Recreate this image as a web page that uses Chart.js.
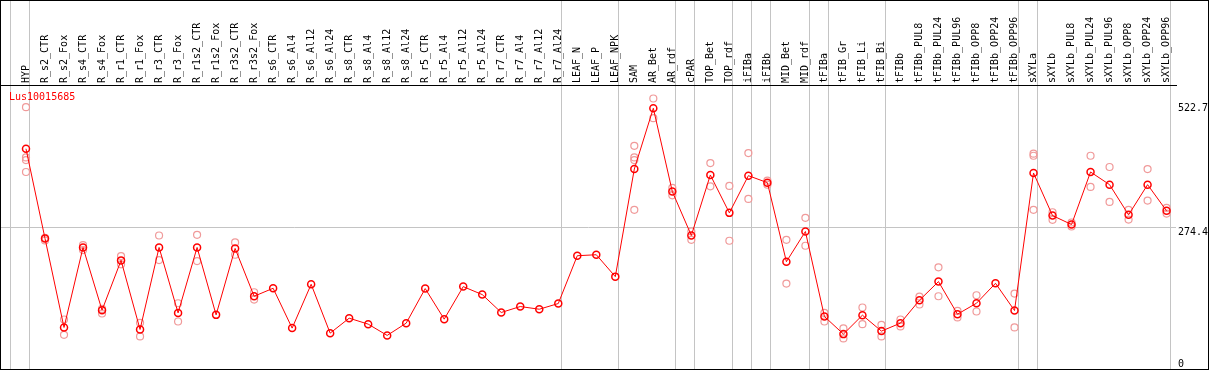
<!DOCTYPE html>
<html>
<head>
<meta charset="utf-8">
<script src="https://cdn.jsdelivr.net/npm/chart.js@4.4.1/dist/chart.umd.min.js"></script>
<style>
html, body { margin: 0; padding: 0; background: #fff; }
#wrap { position: relative; width: 1207px; height: 368px; border: 1px solid #000; }
</style>
</head>
<body>
<div id="wrap"><canvas id="expr"></canvas></div>
<script>
const geneName = 'Lus10015685';

const samples = ['HYP', 'R_s2_CTR', 'R_s2_Fox', 'R_s4_CTR', 'R_s4_Fox', 'R_r1_CTR', 'R_r1_Fox', 'R_r3_CTR', 'R_r3_Fox',
  'R_r1s2_CTR', 'R_r1s2_Fox', 'R_r3s2_CTR', 'R_r3s2_Fox', 'R_s6_CTR', 'R_s6_Al4', 'R_s6_Al12', 'R_s6_Al24',
  'R_s8_CTR', 'R_s8_Al4', 'R_s8_Al12', 'R_s8_Al24', 'R_r5_CTR', 'R_r5_Al4', 'R_r5_Al12', 'R_r5_Al24',
  'R_r7_CTR', 'R_r7_Al4', 'R_r7_Al12', 'R_r7_Al24', 'LEAF_N', 'LEAF_P', 'LEAF_NPK', 'SAM', 'AR_Bet', 'AR_rdf',
  'cPAR', 'TOP_Bet', 'TOP_rdf', 'iFIBa', 'iFIBb', 'MID_Bet', 'MID_rdf', 'tFIBa', 'tFIB_Gr', 'tFIB_Li', 'tFIB_Bi',
  'tFIBb', 'tFIBb_PUL8', 'tFIBb_PUL24', 'tFIBb_PUL96', 'tFIBb_OPP8', 'tFIBb_OPP24', 'tFIBb_OPP96',
  'sXYLa', 'sXYLb', 'sXYLb_PUL8', 'sXYLb_PUL24', 'sXYLb_PUL96', 'sXYLb_OPP8', 'sXYLb_OPP24', 'sXYLb_OPP96'];

// mean expression per sample
const meanVals = [425.6, 252.3, 80.3, 234.9, 113.6, 209.9, 76.4, 234.9, 108.4,
  234.9, 104.6, 233.0, 140.6, 156.0, 79.0, 163.7, 69.3,
  98.2, 86.7, 64.9, 88.6, 155.4, 96.3, 159.2, 143.8,
  109.2, 120.7, 115.5, 126.5, 218.9, 220.8, 178.5, 386.4, 503.9, 342.8,
  258.0, 374.9, 301.7, 373.6, 360.1, 207.4, 265.7, 101.5, 67.4, 104.0, 73.2,
  88.6, 132.9, 168.9, 105.9, 127.1, 165.6, 113.0,
  378.8, 296.5, 279.2, 380.7, 356.2, 297.9, 356.2, 305.6];

// individual replicates (null = none shown)
const repA = [505.9, 253.6, 95.7, 239.4, 116.1, 218.2, 89.2, 258.0, 127.1,
  259.3, null, 244.6, 148.3, null, null, null, null,
  null, null, null, null, null, null, null, null,
  null, null, null, null, null, null, null, 431.3, 522.7, 349.9,
  265.7, 398.0, 353.7, 417.3, 364.0, 249.7, 292.1, 108.4, 78.4, 118.8, 85.4,
  95.7, 140.0, 196.4, 112.3, 142.5, null, 145.8,
  416.0, 302.9, 283.1, 412.1, 390.3, 307.5, 386.4, 311.3];
const repB = [408.8, 248.4, 66.0, 229.8, 107.2, 202.2, 62.9, 210.5, 91.8,
  208.6, null, 220.8, 134.2, null, null, null, null,
  null, null, null, null, null, null, null, null,
  null, null, null, null, null, null, null, 408.8, 484.7, 335.6,
  249.7, 353.0, 247.8, 328.7, 356.2, 165.0, 238.2, 91.8, 59.1, 86.7, 62.9,
  82.2, 124.6, 140.6, 99.6, 111.1, null, 80.3,
  412.1, 288.3, 275.4, 351.8, 322.9, 288.8, 325.4, 300.4];
const repC = [403.8, null, null, null, null, null, null, null, null,
  null, null, null, null, null, null, null, null,
  null, null, null, null, null, null, null, null,
  null, null, null, null, null, null, null, 403.8, null, null,
  null, null, null, null, null, null, null, null, null, null, null,
  null, null, null, null, null, null, null,
  307.5, null, null, null, null, null, null, null];
const repD = [380.7, null, null, null, null, null, null, null, null,
  null, null, null, null, null, null, null, null,
  null, null, null, null, null, null, null, null,
  null, null, null, null, null, null, null, 307.5, null, null,
  null, null, null, null, null, null, null, null, null, null, null,
  null, null, null, null, null, null, null,
  null, null, null, null, null, null, null, null];

// first sample index of each tissue group (last entry closes the final group)
const groupStarts = [0, 1, 29, 32, 35, 36, 38, 39, 40, 42, 43, 46, 53, 54, 61];
const yTicks = [0, 274.4, 522.7];
const yMax = 548.8;

const monoFont = { family: 'DejaVu Sans Mono', size: 10 };
const xMin = -1.315, xMax = 60.495;

const replicatePoints = [];
[repA, repB, repC, repD].forEach(rep => {
  rep.forEach((v, i) => { if (v !== null) replicatePoints.push({ x: i, y: v }); });
});

function noPad(s) {
  s.paddingLeft = 0; s.paddingRight = 0; s.paddingTop = 0; s.paddingBottom = 0;
}

// y labels sit just below their value, except the bottom one
function yLabel(v) {
  if (v === 522.7) return ['', '', '522.7'];
  if (v === 0) return ['0', ''];
  return ['', String(v)];
}

const geneTitle = {
  id: 'geneTitle',
  afterDraw(chart) {
    const ctx = chart.ctx;
    ctx.save();
    ctx.font = '10px "DejaVu Sans Mono"';
    ctx.fillStyle = '#ff0000';
    ctx.textBaseline = 'middle';
    ctx.fillText(geneName, 8, chart.chartArea.top + 12);
    ctx.restore();
  }
};

new Chart(document.getElementById('expr'), {
  type: 'line',
  data: {
    datasets: [{
      label: geneName,
      data: meanVals.map((v, i) => ({ x: i, y: v })),
      borderColor: '#ff0000',
      borderWidth: 1,
      tension: 0,
      pointRadius: 3.5,
      pointBorderWidth: 1.5,
      pointBorderColor: '#ff0000',
      pointBackgroundColor: 'rgba(0,0,0,0)',
      order: 0
    }, {
      label: 'replicates',
      data: replicatePoints,
      showLine: false,
      pointRadius: 3.5,
      pointBorderWidth: 1.2,
      pointBorderColor: '#f09a9a',
      pointBackgroundColor: 'rgba(0,0,0,0)',
      order: 1
    }]
  },
  options: {
    responsive: true,
    maintainAspectRatio: false,
    animation: false,
    layout: { padding: 0, autoPadding: false },
    plugins: { legend: { display: false }, tooltip: { enabled: false } },
    scales: {
      x: {
        type: 'linear', position: 'top', min: xMin, max: xMax, weight: 10,
        grid: { display: false, drawTicks: false },
        border: { display: true, color: '#000', width: 1 },
        ticks: {
          autoSkip: false, minRotation: 90, maxRotation: 90, padding: 2, labelOffset: 12,
          color: '#000', font: monoFont,
          callback: v => samples[v] ?? ''
        },
        afterBuildTicks: s => { s.ticks = samples.map((_, i) => ({ value: i })); },
        afterFit: s => { s.height = 84; noPad(s); }
      },
      xs: {
        type: 'linear', position: 'top', min: xMin, max: xMax, weight: 0,
        ticks: { display: false },
        grid: { color: '#c4c4c4', lineWidth: 1, drawTicks: true, tickLength: 84 },
        border: { display: false },
        afterBuildTicks: s => { s.ticks = groupStarts.map(k => ({ value: k - 0.81 })); },
        afterFit: s => { s.height = 0; noPad(s); }
      },
      y: {
        position: 'right', min: 0, max: yMax,
        grid: {
          drawTicks: false,
          color: c => (c.tick && c.tick.value === 274.4) ? '#c4c4c4' : 'rgba(0,0,0,0)'
        },
        border: { display: false },
        ticks: {
          padding: 2, color: '#000',
          font: { family: 'DejaVu Sans Mono', size: 10, lineHeight: 1.0 },
          callback: yLabel
        },
        afterBuildTicks: s => { s.ticks = yTicks.map(v => ({ value: v })); },
        afterFit: s => { s.width = 32; noPad(s); }
      }
    }
  },
  plugins: [geneTitle]
});
</script>
</body>
</html>
